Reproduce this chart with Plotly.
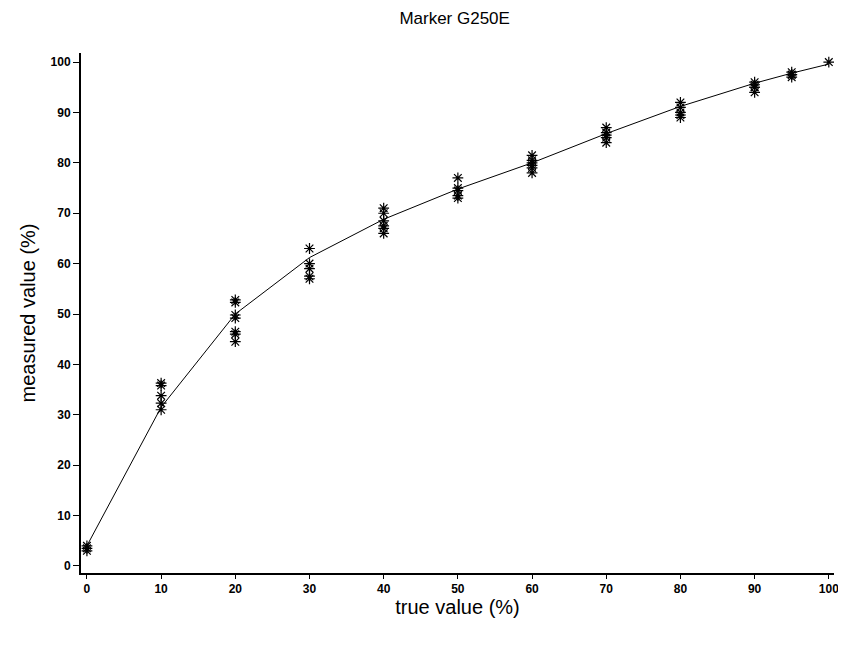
import plotly.graph_objects as go

# measured points
x0 = [0, 0, 0]
y0 = [3.0, 3.5, 4.0]
x10 = [10] * 5
y10 = [36.3, 35.8, 33.8, 32.3, 31.0]
x20 = [20] * 7
y20 = [52.8, 52.3, 49.8, 49.2, 46.5, 46.0, 44.5]
x30 = [30] * 5
y30 = [63.0, 60.0, 59.0, 57.5, 57.0]
x40 = [40] * 6
y40 = [71.0, 70.0, 68.5, 67.5, 67.0, 66.0]
x50 = [50] * 5
y50 = [77.0, 75.0, 74.5, 73.5, 73.0]
x60 = [60] * 6
y60 = [81.5, 80.5, 80.0, 79.5, 79.0, 78.0]
x70 = [70] * 5
y70 = [87.0, 86.0, 85.5, 85.0, 84.0]
x80 = [80] * 5
y80 = [92.0, 91.0, 90.0, 89.5, 89.0]
x90 = [90] * 5
y90 = [96.0, 95.5, 95.0, 95.0, 94.0]
x95 = [95] * 4
y95 = [98.0, 97.5, 97.5, 97.0]
x100 = [100]
y100 = [100.0]

# fitted curve
fit_x = [0, 10, 20, 30, 40, 50, 60, 70, 80, 90, 95, 100]
fit_y = [4.0, 31.5, 50.0, 61.2, 68.8, 74.8, 80.0, 85.8, 91.2, 95.8, 97.8, 99.6]

x_ticks = [0, 10, 20, 30, 40, 50, 60, 70, 80, 90, 100]
y_ticks = [0, 10, 20, 30, 40, 50, 60, 70, 80, 90, 100]

pts_x = x0 + x10 + x20 + x30 + x40 + x50 + x60 + x70 + x80 + x90 + x95 + x100
pts_y = y0 + y10 + y20 + y30 + y40 + y50 + y60 + y70 + y80 + y90 + y95 + y100

fig = go.Figure()
fig.add_trace(go.Scatter(x=fit_x, y=fit_y, mode="lines",
                         line=dict(color="black", width=1), showlegend=False))
fig.add_trace(go.Scatter(x=pts_x, y=pts_y, mode="markers",
                         marker=dict(symbol="asterisk-open", size=9, color="black",
                                     line=dict(color="black", width=1.2)),
                         showlegend=False))

fig.update_layout(
    width=838, height=641,
    margin=dict(l=73, r=7, t=45, b=76),
    paper_bgcolor="white", plot_bgcolor="white",
    title=dict(text="Marker G250E", x=0.533, xanchor="center", y=0.984, yanchor="middle",
               font=dict(family="Liberation Sans, Arial", size=17, color="black")),
    font=dict(family="Liberation Sans, Arial", color="black"),
)
fig.update_xaxes(range=[-0.8, 100.7], tickvals=x_ticks, ticktext=[str(v) for v in x_ticks],
                 showgrid=False, zeroline=False, showline=True, linecolor="black", linewidth=2,
                 ticks="outside", ticklen=4, tickcolor="black", tickwidth=1,
                 tickfont=dict(family="Liberation Sans, Arial", size=12, weight="bold"),
                 title=dict(text="true value (%)", font=dict(size=20), standoff=0))
fig.update_yaxes(range=[-1.4, 101.8], tickvals=y_ticks, ticktext=[str(v) for v in y_ticks],
                 showgrid=False, zeroline=False, showline=True, linecolor="black", linewidth=2,
                 ticks="outside", ticklen=6, tickcolor="black", tickwidth=1,
                 tickfont=dict(family="Liberation Sans, Arial", size=12, weight="bold"),
                 title=dict(text="measured value (%)", font=dict(size=20), standoff=10))

fig.write_html("out.html")
